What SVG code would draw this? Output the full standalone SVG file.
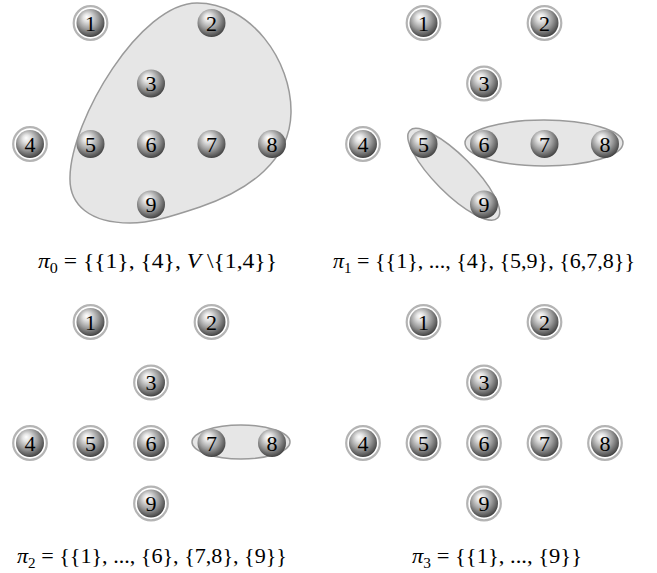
<svg xmlns="http://www.w3.org/2000/svg" width="657" height="573" viewBox="0 0 657 573">
<defs>
<radialGradient id="ball" cx="0.45" cy="0.4" r="0.62" fx="0.36" fy="0.28">
<stop offset="0" stop-color="#ffffff"/>
<stop offset="0.22" stop-color="#e4e4e4"/>
<stop offset="0.6" stop-color="#9a9a9a"/>
<stop offset="0.88" stop-color="#5a5a5a"/>
<stop offset="1" stop-color="#3c3c3c"/>
</radialGradient>
<g id="b"><circle r="14" fill="url(#ball)"/></g>
<g id="rb"><circle r="16.8" fill="#fff" stroke="#b4b4b4" stroke-width="2.2"/><circle r="14" fill="url(#ball)"/></g>
</defs>
<style>
.blob{fill:#e6e6e6;stroke:#9a9a9a;stroke-width:1.5}
.n{font-family:"Liberation Serif","DejaVu Serif",serif;font-size:22px;fill:#000;text-anchor:middle}
.cap{font-family:"Liberation Serif","DejaVu Serif",serif;font-size:22px;fill:#000}
</style>
<g id="connectors">
<path class="blob" d="M197,3 C250,3 292,60 291,113 C290,160 250,190 200,207 C170,217 150,223 130,223 C90,223 69,205 70,177 C71,120 140,3 197,3 Z"/>
<ellipse class="blob" cx="544" cy="143" rx="79" ry="23"/>
<ellipse class="blob" cx="453.75" cy="174.25" rx="62" ry="19" transform="rotate(45 453.75 174.25)"/>
<ellipse class="blob" cx="241" cy="442" rx="49" ry="17"/>
</g>
<!-- Panel 0 -->
<g id="p0n1"><use href="#rb" x="90.5" y="23"/><text class="n" x="90.5" y="30.5">1</text></g>
<g id="p0n2"><use href="#b" x="211.5" y="23"/><text class="n" x="211.5" y="30.5">2</text></g>
<g id="p0n3"><use href="#b" x="151" y="83.5"/><text class="n" x="151" y="91">3</text></g>
<g id="p0n4"><use href="#rb" x="30" y="144"/><text class="n" x="30" y="151.5">4</text></g>
<g id="p0n5"><use href="#b" x="90.5" y="144"/><text class="n" x="90.5" y="151.5">5</text></g>
<g id="p0n6"><use href="#b" x="151" y="144"/><text class="n" x="151" y="151.5">6</text></g>
<g id="p0n7"><use href="#b" x="211.5" y="144"/><text class="n" x="211.5" y="151.5">7</text></g>
<g id="p0n8"><use href="#b" x="272" y="144"/><text class="n" x="272" y="151.5">8</text></g>
<g id="p0n9"><use href="#b" x="151" y="204.5"/><text class="n" x="151" y="212">9</text></g>
<!-- Panel 1 -->
<g id="p1n1"><use href="#rb" x="423.5" y="23"/><text class="n" x="423.5" y="30.5">1</text></g>
<g id="p1n2"><use href="#rb" x="544.5" y="23"/><text class="n" x="544.5" y="30.5">2</text></g>
<g id="p1n3"><use href="#rb" x="484" y="83.5"/><text class="n" x="484" y="91">3</text></g>
<g id="p1n4"><use href="#rb" x="363" y="144"/><text class="n" x="363" y="151.5">4</text></g>
<g id="p1n5"><use href="#b" x="423.5" y="144"/><text class="n" x="423.5" y="151.5">5</text></g>
<g id="p1n6"><use href="#b" x="484" y="144"/><text class="n" x="484" y="151.5">6</text></g>
<g id="p1n7"><use href="#b" x="544.5" y="144"/><text class="n" x="544.5" y="151.5">7</text></g>
<g id="p1n8"><use href="#b" x="605" y="144"/><text class="n" x="605" y="151.5">8</text></g>
<g id="p1n9"><use href="#b" x="484" y="204.5"/><text class="n" x="484" y="212">9</text></g>
<!-- Panel 2 -->
<g id="p2n1"><use href="#rb" x="90.5" y="322"/><text class="n" x="90.5" y="329.5">1</text></g>
<g id="p2n2"><use href="#rb" x="211.5" y="322"/><text class="n" x="211.5" y="329.5">2</text></g>
<g id="p2n3"><use href="#rb" x="151" y="382.5"/><text class="n" x="151" y="390">3</text></g>
<g id="p2n4"><use href="#rb" x="30" y="443"/><text class="n" x="30" y="450.5">4</text></g>
<g id="p2n5"><use href="#rb" x="90.5" y="443"/><text class="n" x="90.5" y="450.5">5</text></g>
<g id="p2n6"><use href="#rb" x="151" y="443"/><text class="n" x="151" y="450.5">6</text></g>
<g id="p2n7"><use href="#b" x="211.5" y="443"/><text class="n" x="211.5" y="450.5">7</text></g>
<g id="p2n8"><use href="#b" x="272" y="443"/><text class="n" x="272" y="450.5">8</text></g>
<g id="p2n9"><use href="#rb" x="151" y="503.5"/><text class="n" x="151" y="511">9</text></g>
<!-- Panel 3 -->
<g id="p3n1"><use href="#rb" x="423.5" y="322"/><text class="n" x="423.5" y="329.5">1</text></g>
<g id="p3n2"><use href="#rb" x="544.5" y="322"/><text class="n" x="544.5" y="329.5">2</text></g>
<g id="p3n3"><use href="#rb" x="484" y="382.5"/><text class="n" x="484" y="390">3</text></g>
<g id="p3n4"><use href="#rb" x="363" y="443"/><text class="n" x="363" y="450.5">4</text></g>
<g id="p3n5"><use href="#rb" x="423.5" y="443"/><text class="n" x="423.5" y="450.5">5</text></g>
<g id="p3n6"><use href="#rb" x="484" y="443"/><text class="n" x="484" y="450.5">6</text></g>
<g id="p3n7"><use href="#rb" x="544.5" y="443"/><text class="n" x="544.5" y="450.5">7</text></g>
<g id="p3n8"><use href="#rb" x="605" y="443"/><text class="n" x="605" y="450.5">8</text></g>
<g id="p3n9"><use href="#rb" x="484" y="503.5"/><text class="n" x="484" y="511">9</text></g>
<!-- Captions -->
<g id="captions">
<text class="cap" x="38" y="268" textLength="239" lengthAdjust="spacingAndGlyphs"><tspan font-style="italic">π</tspan><tspan font-size="15" dy="5">0</tspan><tspan dy="-5"> = {{1}, {4}, </tspan><tspan font-style="italic">V</tspan><tspan> \{1,4}}</tspan></text>
<text class="cap" x="333" y="268" textLength="302" lengthAdjust="spacingAndGlyphs"><tspan font-style="italic">π</tspan><tspan font-size="15" dy="5">1</tspan><tspan dy="-5"> = {{1}, ..., {4}, {5,9}, {6,7,8}}</tspan></text>
<text class="cap" x="17" y="563" textLength="270" lengthAdjust="spacingAndGlyphs"><tspan font-style="italic">π</tspan><tspan font-size="15" dy="5">2</tspan><tspan dy="-5"> = {{1}, ..., {6}, {7,8}, {9}}</tspan></text>
<text class="cap" x="412" y="563" textLength="170" lengthAdjust="spacingAndGlyphs"><tspan font-style="italic">π</tspan><tspan font-size="15" dy="5">3</tspan><tspan dy="-5"> = {{1}, ..., {9}}</tspan></text>
</g>
</svg>
